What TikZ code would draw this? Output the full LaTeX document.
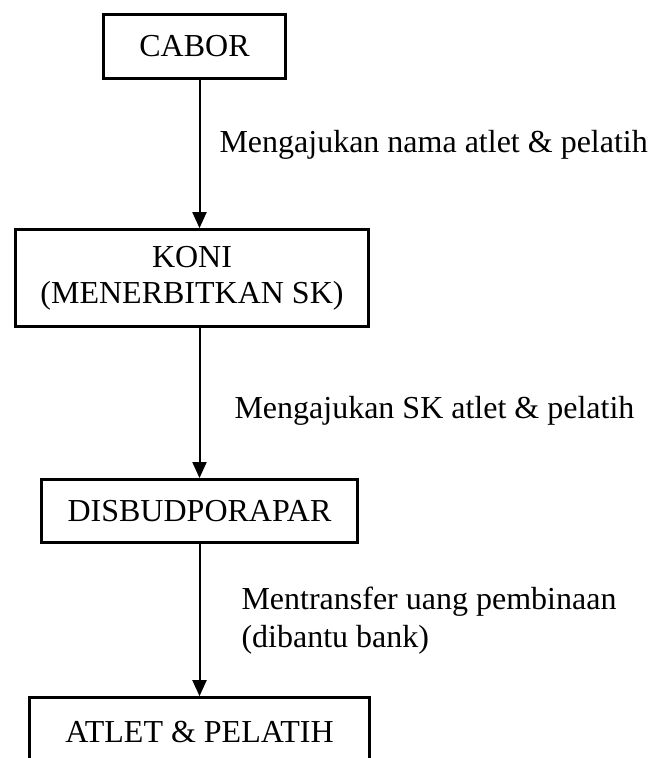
\documentclass[tikz,border=0pt]{standalone}
\usepackage{fontspec}
\setmainfont{Liberation Serif}
\usetikzlibrary{positioning,arrows.meta}
\tikzset{
  box/.style ={draw=black,line width=1.65pt,align=center,inner sep=4pt,font=\fontsize{16}{18}\selectfont},
  arr/.style ={-{Triangle[length=8pt,width=7pt]},line width=1pt,draw=black},
  lbl/.style ={font=\fontsize{16}{19}\selectfont,align=left,inner sep=0pt},
}
\begin{document}
\begin{tikzpicture}
  \useasboundingbox (0,0) rectangle (325.5pt,-379pt);

  \node[box, minimum width=91pt, minimum height=32pt] (cabor) at (97.25pt,-23.25pt) {CABOR};
  \node[box, minimum width=176.3pt, minimum height=48.3pt, below=74pt of cabor, xshift=-1.25pt] (koni) {KONI\\(MENERBITKAN SK)};
  \node[box, minimum width=157.8pt, minimum height=31.4pt, below=75pt of koni, xshift=3.75pt] (dinas) {DISBUDPORAPAR};
  \node[box, minimum width=170pt, minimum height=34pt, below=76pt of dinas] (atlet) {ATLET \& PELATIH};

  % alur pengajuan
  \draw[arr] (cabor.south -| dinas) -- node[lbl, right=9.5pt, pos=0.44]{Mengajukan nama atlet \& pelatih} (koni.north -| dinas);
  \draw[arr] (koni.south -| dinas) -- node[lbl, right=17pt, pos=0.55]{Mengajukan SK atlet \& pelatih} (dinas.north);
  \draw[arr] (dinas.south) -- node[lbl, right=20.5pt, pos=0.5]{Mentransfer uang pembinaan\\(dibantu bank)} (atlet.north);
\end{tikzpicture}
\end{document}
